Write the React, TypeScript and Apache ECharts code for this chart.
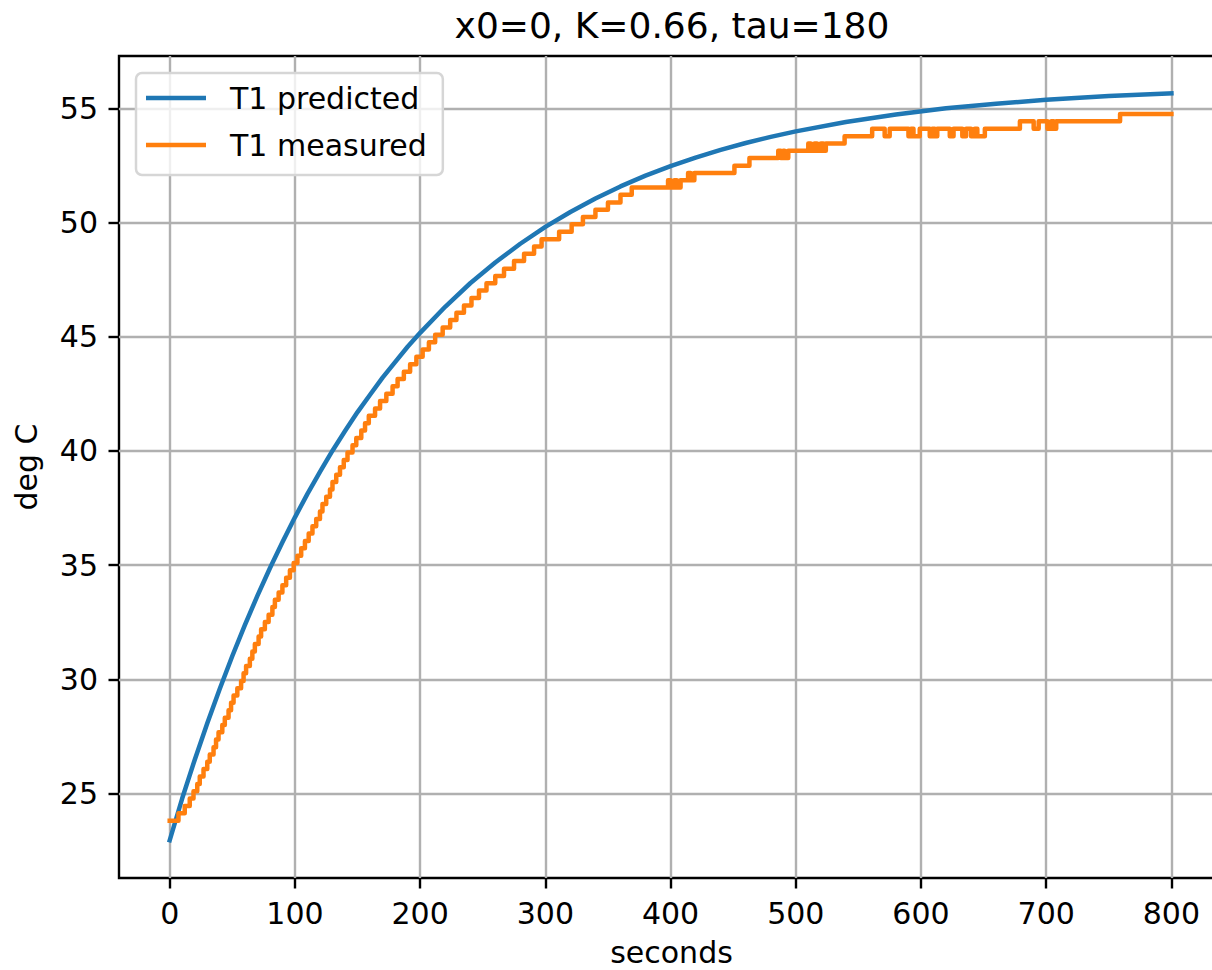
import React, { useEffect, useRef } from "react";
import * as echarts from "echarts";

const titleText = "x0=0, K=0.66, tau=180";
const xAxisName = "seconds";
const yAxisName = "deg C";
const xTicks = [0, 100, 200, 300, 400, 500, 600, 700, 800];
const yTicks = [25, 30, 35, 40, 45, 50, 55];

const predictedName = "T1 predicted";
const predictedT = [0, 10, 20, 30, 40, 50, 60, 70, 80, 90, 100, 110, 120, 130, 140, 150, 160, 170, 180, 190, 200, 220, 240, 260, 280, 300, 320, 340, 360, 380, 400, 420, 440, 460, 480, 500, 540, 580, 620, 660, 700, 750, 800];
const predictedV = [22.95, 24.79, 26.48, 28.08, 29.59, 31.02, 32.37, 33.65, 34.86, 36.0, 37.09, 38.12, 39.08, 40.01, 40.87, 41.7, 42.46, 43.21, 43.89, 44.56, 45.17, 46.31, 47.34, 48.25, 49.07, 49.81, 50.46, 51.05, 51.58, 52.05, 52.47, 52.84, 53.18, 53.48, 53.75, 53.99, 54.4, 54.73, 55.0, 55.2, 55.37, 55.54, 55.66];

const measuredName = "T1 measured";
const measuredT = [0, 7, 12, 16, 19, 22, 24, 27, 30, 32, 35, 37, 39, 42, 44, 47, 49, 51, 54, 57, 59, 61, 64, 66, 68, 71, 73, 76, 79, 82, 84, 87, 90, 93, 96, 99, 102, 105, 108, 111, 114, 117, 120, 122, 125, 128, 130, 133, 136, 139, 142, 146, 149, 153, 156, 159, 164, 168, 173, 178, 182, 187, 192, 197, 202, 207, 212, 218, 224, 229, 235, 241, 247, 253, 260, 267, 275, 283, 291, 297, 311, 321, 330, 340, 350, 360, 369, 398, 400, 403, 405, 408, 414, 416, 419, 451, 463, 486, 488, 490, 491, 494, 510, 512, 515, 517, 520, 522, 524, 539, 561, 571, 575, 590, 592, 594, 599, 607, 609, 611, 613, 623, 626, 633, 636, 640, 643, 645, 651, 679, 690, 694, 701, 704, 706, 708, 759, 800];
const measuredV = [23.81, 24.13, 24.45, 24.78, 25.1, 25.42, 25.74, 26.07, 26.39, 26.71, 27.03, 27.36, 27.68, 28.0, 28.32, 28.64, 28.97, 29.29, 29.61, 29.93, 30.26, 30.58, 30.9, 31.22, 31.55, 31.87, 32.19, 32.51, 32.83, 33.16, 33.48, 33.8, 34.12, 34.45, 34.77, 35.09, 35.41, 35.74, 36.06, 36.38, 36.7, 37.02, 37.35, 37.67, 37.99, 38.31, 38.64, 38.96, 39.28, 39.6, 39.93, 40.25, 40.57, 40.89, 41.21, 41.54, 41.86, 42.18, 42.5, 42.83, 43.15, 43.47, 43.79, 44.12, 44.44, 44.76, 45.08, 45.4, 45.73, 46.05, 46.37, 46.69, 47.02, 47.34, 47.66, 47.98, 48.31, 48.63, 48.95, 49.27, 49.59, 49.92, 50.24, 50.56, 50.88, 51.21, 51.53, 51.85, 51.53, 51.85, 51.53, 51.85, 52.17, 51.85, 52.17, 52.49, 52.82, 53.14, 52.82, 53.14, 52.82, 53.14, 53.46, 53.14, 53.46, 53.14, 53.46, 53.14, 53.46, 53.78, 54.11, 53.78, 54.11, 53.78, 54.11, 53.78, 54.11, 53.78, 54.11, 53.78, 54.11, 53.78, 54.11, 53.78, 54.11, 53.78, 54.11, 53.78, 54.11, 54.43, 54.11, 54.43, 54.11, 54.43, 54.11, 54.43, 54.75, 54.75];

const FONT = "DejaVu Sans";

export default function App() {
  const ref = useRef<HTMLDivElement>(null);
  useEffect(() => {
    document.body.style.margin = "0";
    const chart = echarts.init(ref.current as HTMLDivElement, null, { renderer: "svg" });
    const predicted = predictedT.map((t, i) => [t, predictedV[i]]);
    const measured = measuredT.map((t, i) => [t, measuredV[i]]);
    chart.setOption({
      animation: false,
      backgroundColor: "#ffffff",
      textStyle: { fontFamily: FONT },
      title: {
        text: titleText,
        left: 672,
        top: 7,
        textAlign: "center",
        padding: 0,
        textStyle: { fontFamily: FONT, fontSize: 36, fontWeight: "normal", color: "#000" },
      },
      legend: {
        orient: "vertical",
        left: 136,
        top: 73,
        padding: [9, 16, 14, 10],
        itemGap: 15,
        itemWidth: 60,
        itemHeight: 4.5,
        icon: "rect",
        backgroundColor: "rgba(255,255,255,0.8)",
        borderColor: "#d6d6d6",
        borderWidth: 2.5,
        borderRadius: 6,
        textStyle: { fontFamily: FONT, fontSize: 30, color: "#000", lineHeight: 32, padding: [0, 0, 0, 19] },
        data: [predictedName, measuredName],
      },
      grid: {
        left: 119,
        top: 56,
        width: 1105,
        height: 822,
        show: true,
        borderColor: "#000",
        borderWidth: 2.4,
        backgroundColor: "transparent",
        containLabel: false,
        outerBoundsMode: "none",
      },
      xAxis: {
        type: "value",
        min: -40.5,
        max: 842,
        name: xAxisName,
        nameLocation: "middle",
        nameGap: 59,
        nameTextStyle: { fontFamily: FONT, fontSize: 30, color: "#000" },
        axisLine: { show: false, onZero: false },
        axisTick: { show: true, inside: false, length: 10.5, customValues: xTicks, lineStyle: { color: "#000", width: 2.4 } },
        axisLabel: { customValues: xTicks, margin: 20, fontFamily: FONT, fontSize: 30, color: "#000" },
        splitLine: { show: true, lineStyle: { color: "#b0b0b0", width: 2.4 } },
      },
      yAxis: {
        type: "value",
        min: 21.3,
        max: 57.29,
        name: yAxisName,
        nameLocation: "middle",
        nameRotate: 90,
        nameGap: 78,
        nameTextStyle: { fontFamily: FONT, fontSize: 30, color: "#000" },
        axisLine: { show: false, onZero: false },
        axisTick: { show: true, inside: false, length: 10.5, customValues: yTicks, lineStyle: { color: "#000", width: 2.4 } },
        axisLabel: { customValues: yTicks, margin: 21, fontFamily: FONT, fontSize: 30, color: "#000" },
        splitLine: { show: true, lineStyle: { color: "#b0b0b0", width: 2.4 } },
      },
      series: [
        {
          name: predictedName,
          type: "line",
          data: predicted,
          showSymbol: false,
          symbol: "none",
          color: "#1f77b4",
          lineStyle: { color: "#1f77b4", width: 4.5, cap: "square", join: "round" },
        },
        {
          name: measuredName,
          type: "line",
          step: "end",
          data: measured,
          showSymbol: false,
          symbol: "none",
          color: "#ff7f0e",
          lineStyle: { color: "#ff7f0e", width: 4.5, cap: "square", join: "round" },
        },
      ],
    });
    return () => chart.dispose();
  }, []);
  return <div ref={ref} style={{ width: 1212, height: 970 }} />;
}
